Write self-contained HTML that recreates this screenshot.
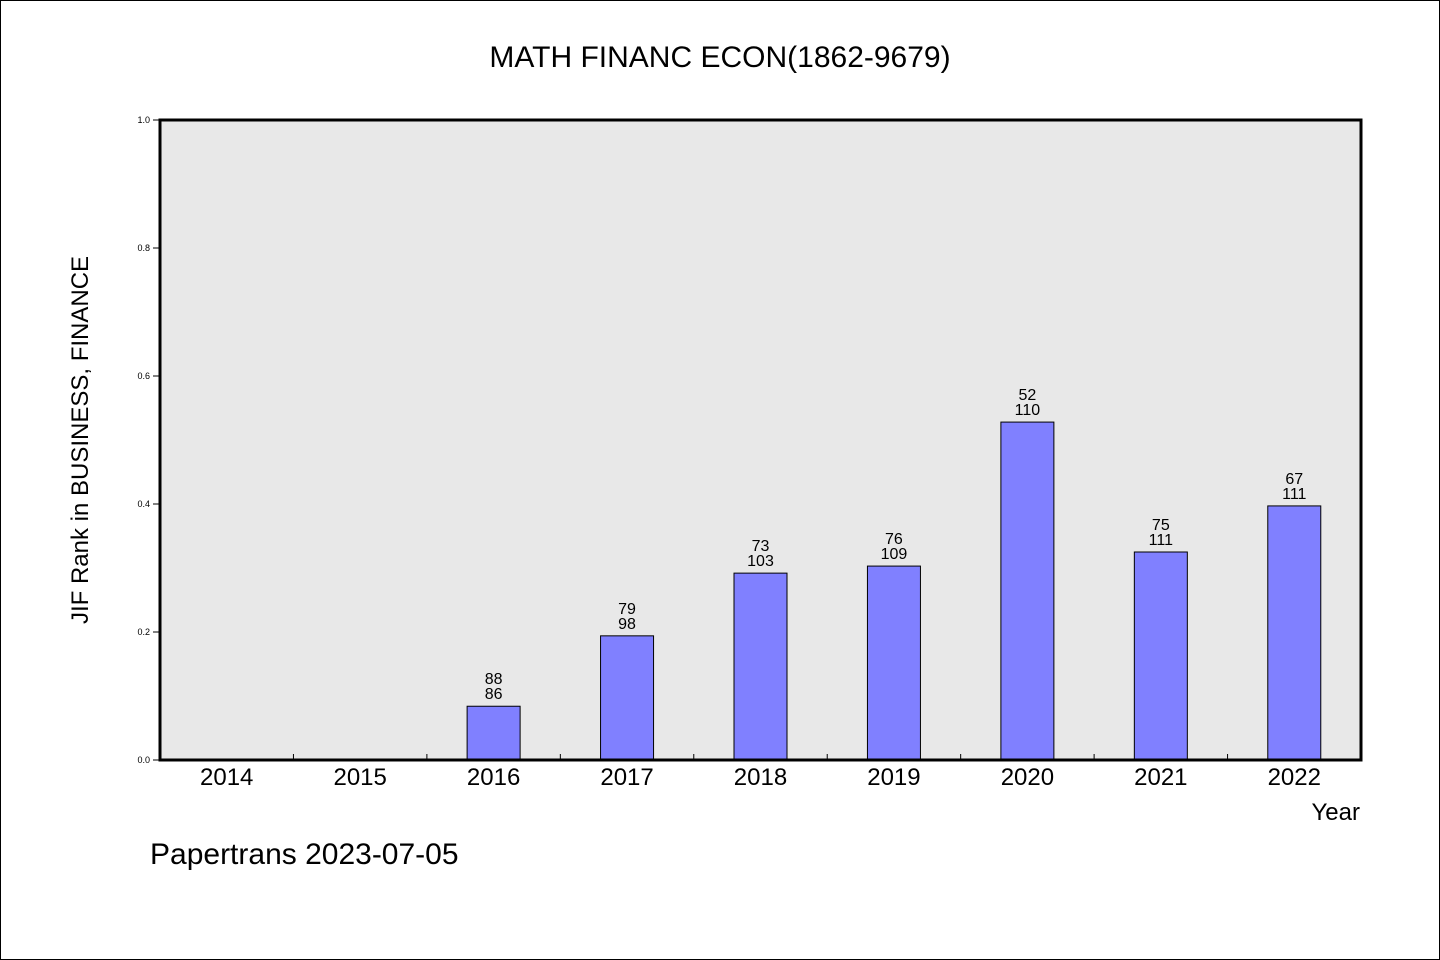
<!DOCTYPE html>
<html><head><meta charset="utf-8"><style>
html,body{margin:0;padding:0;background:#fff}
svg{display:block;font-family:"WenQuanYi Zen Hei","Liberation Sans",sans-serif}
</style></head><body>
<svg id="c" width="1440" height="960">
<rect x="0.5" y="0.5" width="1439" height="959" fill="#fff" stroke="#000"/>
<text x="720" y="67" font-size="30" text-anchor="middle">MATH FINANC ECON(1862-9679)</text>
<rect x="160" y="120" width="1201" height="640" fill="#e8e8e8"/>
<g id="bars"></g>
<g id="yt"></g>
<g id="xt"></g>
<rect x="160" y="120" width="1201" height="640" fill="none" stroke="#000" stroke-width="3"/>
<text x="88" y="440" font-size="24" text-anchor="middle" transform="rotate(-90 88 440)">JIF Rank in BUSINESS, FINANCE</text>
<text x="1360" y="820" font-size="24" text-anchor="end">Year</text>
<text x="150" y="864" font-size="30">Papertrans 2023-07-05</text>
</svg>
<script>
const categories=["2014","2015","2016","2017","2018","2019","2020","2021","2022"];
const values=[null,null,0.084,0.194,0.292,0.303,0.528,0.325,0.397];
const ranks=[null,null,"88","79","73","76","52","75","67"];
const totals=[null,null,"86","98","103","109","110","111","111"];
const yTicks=[0,0.2,0.4,0.6,0.8,1.0];
const yTickLabels=["0.0","0.2","0.4","0.6","0.8","1.0"];
const NS="http://www.w3.org/2000/svg";
const X0=160,X1=1361,Y0=760,Y1=120;
const slot=(X1-X0)/categories.length;
const xC=i=>X0+slot*(i+0.5);
const y=v=>Y0-(Y0-Y1)*v;
function mk(t,a,p){const e=document.createElementNS(NS,t);for(const k in a)e.setAttribute(k,a[k]);p.appendChild(e);return e;}
const bars=document.getElementById('bars'),yt=document.getElementById('yt'),xt=document.getElementById('xt');
values.forEach((v,i)=>{
 if(v==null)return;
 const r=mk('rect',{x:xC(i)-26.5,y:y(v),width:53,height:Y0-y(v),fill:'#8080ff',stroke:'#000','stroke-width':1},bars);
 
 
 const t1=mk('text',{x:xC(i),y:y(v)-22,'font-size':16,'text-anchor':'middle'},bars);t1.textContent=ranks[i];
 
 
 const t2=mk('text',{x:xC(i),y:y(v)-7,'font-size':16,'text-anchor':'middle'},bars);t2.textContent=totals[i];
 
 
});
yTicks.forEach((v,i)=>{
 const l=mk('line',{x1:153,x2:160,y1:y(v),y2:y(v),stroke:'#000'},yt);
 
 
 const t=mk('text',{x:150,y:y(v)+3,'font-size':9,'text-anchor':'end'},yt);t.textContent=yTickLabels[i];
 
 
});
categories.forEach((c,i)=>{
 if(i>0){const l=mk('line',{x1:X0+slot*i,x2:X0+slot*i,y1:754,y2:760,stroke:'#000'},xt);
 
 }
 const t=mk('text',{x:xC(i),y:785,'font-size':24,'text-anchor':'middle'},xt);t.textContent=c;
 
 
});
</script>
</body></html>
